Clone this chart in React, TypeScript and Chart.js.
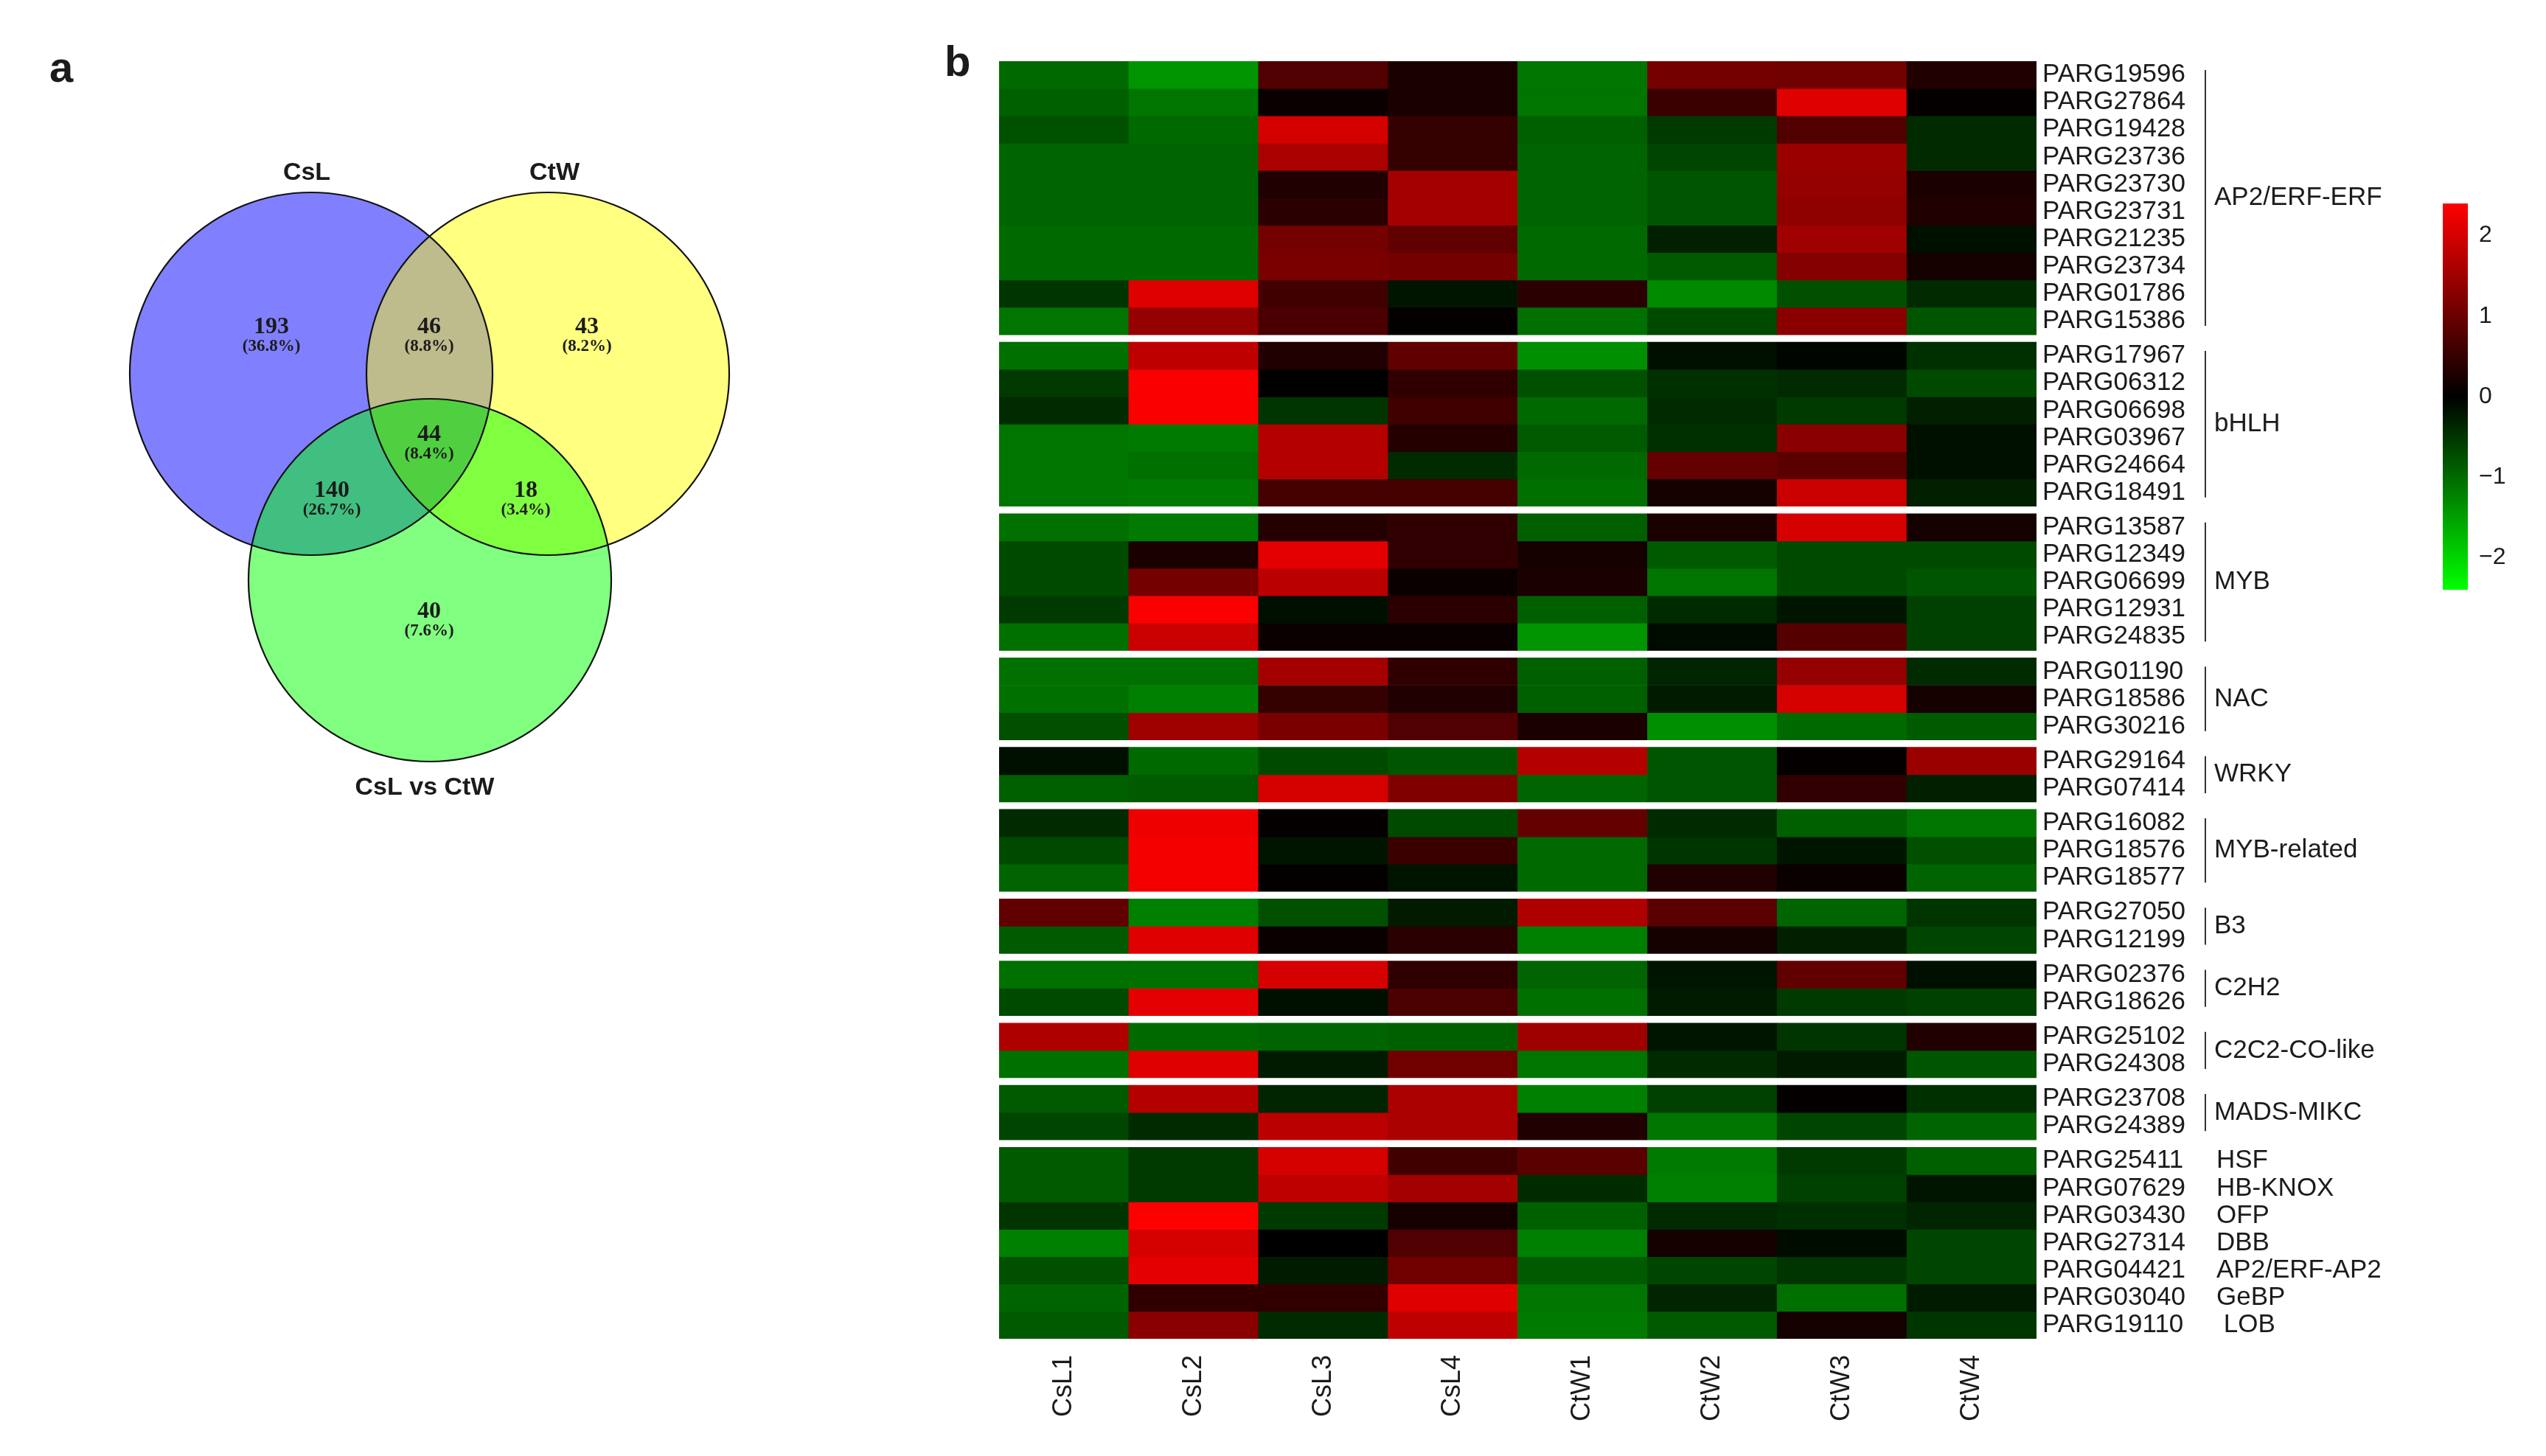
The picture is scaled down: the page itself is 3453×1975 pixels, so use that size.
import React, { useEffect, useRef } from 'react';
import { Chart, registerables } from 'chart.js';

Chart.register(...registerables);

// ---------------- Heatmap data ----------------
const samples = ['CsL1', 'CsL2', 'CsL3', 'CsL4', 'CtW1', 'CtW2', 'CtW3', 'CtW4'];

const genes = [
  'PARG19596', 'PARG27864', 'PARG19428', 'PARG23736', 'PARG23730', 'PARG23731', 'PARG21235', 'PARG23734', 'PARG01786', 'PARG15386',
  'PARG17967', 'PARG06312', 'PARG06698', 'PARG03967', 'PARG24664', 'PARG18491',
  'PARG13587', 'PARG12349', 'PARG06699', 'PARG12931', 'PARG24835',
  'PARG01190', 'PARG18586', 'PARG30216',
  'PARG29164', 'PARG07414',
  'PARG16082', 'PARG18576', 'PARG18577',
  'PARG27050', 'PARG12199',
  'PARG02376', 'PARG18626',
  'PARG25102', 'PARG24308',
  'PARG23708', 'PARG24389',
  'PARG25411', 'PARG07629', 'PARG03430', 'PARG27314', 'PARG04421', 'PARG03040', 'PARG19110',
];

const groupNames = ['AP2/ERF-ERF', 'bHLH', 'MYB', 'NAC', 'WRKY', 'MYB-related', 'B3', 'C2H2', 'C2C2-CO-like', 'MADS-MIKC', ''];
const groupSizes = [10, 6, 5, 3, 2, 3, 2, 2, 2, 2, 7];
const singleFamilies = ['HSF', 'HB-KNOX', 'OFP', 'DBB', 'AP2/ERF-AP2', 'GeBP', ' LOB'];

// z-scores per gene, columns follow `samples`
const expression: number[][] = [
  [-1.0, -1.4, 0.75, 0.25, -1.1, 1.1, 1.05, 0.3],
  [-0.9, -1.1, 0.1, 0.25, -1.1, 0.55, 2.1, 0.05],
  [-0.75, -1.0, 2.0, 0.5, -0.9, -0.55, 0.75, -0.4],
  [-0.95, -0.95, 1.6, 0.5, -0.95, -0.65, 1.45, -0.4],
  [-0.95, -0.95, 0.3, 1.55, -0.95, -0.8, 1.4, 0.25],
  [-0.95, -0.95, 0.4, 1.55, -0.95, -0.8, 1.35, 0.3],
  [-1.0, -1.0, 1.1, 0.9, -1.0, -0.3, 1.5, -0.15],
  [-1.0, -1.0, 1.15, 1.1, -1.0, -0.85, 1.25, 0.2],
  [-0.5, 2.1, 0.6, -0.2, 0.4, -1.3, -0.75, -0.4],
  [-1.1, 1.4, 0.7, 0.05, -1.05, -0.7, 1.3, -0.8],

  [-1.05, 1.8, 0.3, 0.9, -1.35, -0.15, -0.05, -0.45],
  [-0.55, 2.35, 0.0, 0.45, -0.75, -0.45, -0.4, -0.7],
  [-0.4, 2.35, -0.5, 0.6, -1.0, -0.4, -0.55, -0.3],
  [-1.1, -1.15, 1.7, 0.35, -0.85, -0.45, 1.3, -0.15],
  [-1.1, -1.05, 1.7, -0.4, -1.0, 0.95, 0.85, -0.15],
  [-1.1, -1.15, 0.65, 0.65, -1.05, 0.2, 1.9, -0.3],

  [-1.05, -1.15, 0.35, 0.45, -0.9, 0.25, 2.0, 0.2],
  [-0.7, 0.25, 2.15, 0.45, 0.2, -0.85, -0.7, -0.7],
  [-0.7, 1.1, 1.75, 0.1, 0.25, -1.1, -0.7, -0.8],
  [-0.55, 2.35, -0.15, 0.4, -0.9, -0.4, -0.2, -0.6],
  [-1.05, 1.9, 0.1, 0.1, -1.4, -0.1, 0.8, -0.6],

  [-1.05, -1.05, 1.55, 0.45, -0.9, -0.35, 1.4, -0.4],
  [-1.05, -1.2, 0.5, 0.3, -0.9, -0.25, 2.0, 0.2],
  [-0.75, 1.5, 1.15, 0.75, 0.25, -1.35, -1.0, -0.85],

  [-0.15, -1.0, -0.7, -0.8, 1.7, -0.8, 0.05, 1.45],
  [-0.9, -0.85, 2.0, 1.2, -0.95, -0.8, 0.45, -0.3],

  [-0.4, 2.25, 0.05, -0.7, 0.95, -0.4, -0.9, -1.1],
  [-0.7, 2.3, -0.2, 0.55, -1.0, -0.5, -0.2, -0.75],
  [-0.95, 2.3, 0.05, -0.2, -1.0, 0.3, 0.1, -0.95],

  [0.9, -1.2, -0.75, -0.25, 1.65, 0.85, -0.95, -0.5],
  [-0.85, 2.1, 0.1, 0.4, -1.2, 0.2, -0.3, -0.65],

  [-1.05, -1.05, 2.0, 0.45, -0.95, -0.2, 0.9, -0.15],
  [-0.7, 2.15, -0.15, 0.7, -1.05, -0.25, -0.55, -0.6],

  [1.65, -1.0, -0.95, -0.9, 1.5, -0.2, -0.5, 0.3],
  [-1.05, 2.1, -0.25, 1.05, -1.1, -0.4, -0.25, -0.8],

  [-0.85, 1.7, -0.35, 1.6, -1.2, -0.6, 0.05, -0.45],
  [-0.65, -0.4, 1.75, 1.6, 0.3, -1.1, -0.65, -0.95],

  [-0.85, -0.55, 2.0, 0.6, 0.85, -1.15, -0.55, -0.9],
  [-0.85, -0.55, 1.8, 1.55, -0.4, -1.2, -0.6, -0.2],
  [-0.5, 2.4, -0.55, 0.2, -0.9, -0.4, -0.45, -0.35],
  [-1.2, 2.0, 0.0, 0.75, -1.2, 0.2, -0.1, -0.65],
  [-0.75, 2.15, -0.25, 1.05, -0.85, -0.65, -0.5, -0.65],
  [-0.95, 0.45, 0.45, 2.1, -1.1, -0.35, -1.05, -0.25],
  [-0.85, 1.3, -0.4, 1.8, -1.15, -0.85, 0.2, -0.5],
];

const colorTicks = [-2, -1, 0, 1, 2];
const colorMin = -2.4;
const colorMax = 2.4;

// ---------------- Venn data ----------------
const vennSetNames = ['CsL', 'CtW', 'CsL vs CtW'];
const vennCounts = ['193', '46', '43', '140', '44', '18', '40'];
const vennPercents = ['(36.8%)', '(8.8%)', '(8.2%)', '(26.7%)', '(8.4%)', '(3.4%)', '(7.6%)'];

// ---------------- layout (not data) ----------------
const PAGE_W = 3453;
const PAGE_H = 1975;
const GAP = 0.27;

const rowTops: number[] = [];
const groupStarts: number[] = [];
let cursor = 0;
groupSizes.forEach((n, gi) => {
  if (gi > 0) cursor += GAP;
  groupStarts.push(rowTops.length);
  for (let i = 0; i < n; i++) {
    rowTops.push(cursor);
    cursor += 1;
  }
});
const totalUnits = cursor;
const rowCenters = rowTops.map((t) => t + 0.5);

function heatColor(v: number): string {
  const t = Math.max(-1, Math.min(1, v / colorMax));
  const c = Math.round(255 * Math.abs(t));
  return t >= 0 ? `rgb(${c},0,0)` : `rgb(0,${c},0)`;
}

const SANS = '"Liberation Sans", Arial, sans-serif';
const SERIF = '"Liberation Serif", "Times New Roman", serif';
const TEXT = '#1b1b1b';

// Venn geometry (canvas px)
const VENN_W = 1150;
const VENN_H = 1150;
const vennCircles = [
  { x: 422, y: 507 },
  { x: 743, y: 507 },
  { x: 583, y: 787 },
];
const VENN_R = 246;
const vennFills = ['#8080FF', '#FFFF80', '#80FF80'];
const vennPairFills = { ab: '#BEBB8C', ac: '#40BF80', bc: '#80FF40', abc: '#50D040' };
const vennSetLabelPos = [
  { x: 416, y: 235 },
  { x: 752, y: 235 },
  { x: 576, y: 1069 },
];
const vennCountPos = [
  { x: 368, y: 444 },
  { x: 582, y: 444 },
  { x: 796, y: 444 },
  { x: 450, y: 666 },
  { x: 582, y: 590 },
  { x: 713, y: 666 },
  { x: 582, y: 830 },
];

// Heatmap canvas placement
const HEAT_LEFT = 1250;
const HEAT_W = 2050;
const AREA_LEFT = 1355;
const AREA_RIGHT = 2762;
const AREA_TOP = 83;
const AREA_BOTTOM = 1816;

// Colour bar placement
const BAR_LEFT = 3270;
const BAR_TOP = 230;
const BAR_W = 180;
const BAR_H = 620;
const BAR_AREA_LEFT = 3313;
const BAR_AREA_RIGHT = 3347;

const vennPlugin = {
  id: 'vennPlugin',
  beforeDatasetsDraw(chart: any) {
    const { ctx, scales } = chart;
    const xs = scales.x;
    const ys = scales.y;
    const pts = vennCircles.map((c) => ({ x: xs.getPixelForValue(c.x), y: ys.getPixelForValue(c.y) }));
    const r = xs.getPixelForValue(vennCircles[0].x + VENN_R) - xs.getPixelForValue(vennCircles[0].x);
    const circ = (i: number) => {
      ctx.beginPath();
      ctx.arc(pts[i].x, pts[i].y, r, 0, Math.PI * 2);
    };
    ctx.save();
    for (let i = 0; i < 3; i++) {
      circ(i);
      ctx.fillStyle = vennFills[i];
      ctx.fill();
    }
    const pair = (a: number, b: number, col: string) => {
      ctx.save();
      circ(a);
      ctx.clip();
      circ(b);
      ctx.fillStyle = col;
      ctx.fill();
      ctx.restore();
    };
    pair(0, 1, vennPairFills.ab);
    pair(0, 2, vennPairFills.ac);
    pair(1, 2, vennPairFills.bc);
    ctx.save();
    circ(0);
    ctx.clip();
    circ(1);
    ctx.clip();
    circ(2);
    ctx.fillStyle = vennPairFills.abc;
    ctx.fill();
    ctx.restore();
    ctx.lineWidth = 2.2;
    ctx.strokeStyle = '#111';
    for (let i = 0; i < 3; i++) {
      circ(i);
      ctx.stroke();
    }
    ctx.restore();
  },
  afterDatasetsDraw(chart: any) {
    const { ctx, scales } = chart;
    const xs = scales.x;
    const ys = scales.y;
    ctx.save();
    ctx.fillStyle = TEXT;
    ctx.textAlign = 'left';
    ctx.textBaseline = 'alphabetic';
    ctx.font = `bold 58px ${SANS}`;
    ctx.fillText('a', xs.getPixelForValue(67), ys.getPixelForValue(111));

    ctx.textAlign = 'center';
    ctx.textBaseline = 'middle';
    ctx.font = `bold 34px ${SANS}`;
    vennSetNames.forEach((n, i) => {
      ctx.fillText(n, xs.getPixelForValue(vennSetLabelPos[i].x), ys.getPixelForValue(vennSetLabelPos[i].y));
    });
    vennCounts.forEach((c, i) => {
      const px = xs.getPixelForValue(vennCountPos[i].x);
      const py = ys.getPixelForValue(vennCountPos[i].y);
      ctx.font = `bold 32px ${SERIF}`;
      ctx.fillText(c, px, py);
      ctx.font = `bold 23px ${SERIF}`;
      ctx.fillText(vennPercents[i], px, py + 26);
    });
    ctx.restore();
  },
};

const groupPlugin = {
  id: 'groupPlugin',
  afterDraw(chart: any) {
    const { ctx, chartArea } = chart;
    const ys = chart.scales.y;
    const bracketX = chartArea.right + 229;
    ctx.save();
    ctx.fillStyle = TEXT;
    ctx.strokeStyle = '#333';
    ctx.lineWidth = 2;
    ctx.textBaseline = 'middle';
    ctx.textAlign = 'left';
    ctx.font = `35px ${SANS}`;
    groupSizes.forEach((n, gi) => {
      const s = groupStarts[gi];
      const top = ys.getPixelForValue(rowTops[s]);
      const bottom = ys.getPixelForValue(rowTops[s + n - 1] + 1);
      if (groupNames[gi]) {
        ctx.beginPath();
        ctx.moveTo(bracketX, top + 12);
        ctx.lineTo(bracketX, bottom - 12);
        ctx.stroke();
        ctx.fillText(groupNames[gi], bracketX + 12, (top + bottom) / 2);
      } else {
        for (let i = 0; i < n; i++) {
          ctx.fillText(singleFamilies[i], bracketX + 15, ys.getPixelForValue(rowCenters[s + i]));
        }
      }
    });
    ctx.font = `bold 58px ${SANS}`;
    ctx.textBaseline = 'alphabetic';
    ctx.fillText('b', chartArea.left - 74, chartArea.top + 20);
    ctx.restore();
  },
};

export default function App() {
  const vennRef = useRef<HTMLCanvasElement>(null);
  const heatRef = useRef<HTMLCanvasElement>(null);
  const barRef = useRef<HTMLCanvasElement>(null);

  useEffect(() => {
    const charts: Chart[] = [];

    charts.push(
      new Chart(vennRef.current as HTMLCanvasElement, {
        type: 'scatter',
        data: {
          datasets: [
            {
              data: vennCountPos.map((p) => ({ x: p.x, y: p.y })),
              pointRadius: 0,
              showLine: false,
            },
          ],
        },
        options: {
          animation: false,
          responsive: false,
          events: [],
          layout: { padding: 0 },
          plugins: { legend: { display: false }, tooltip: { enabled: false } },
          scales: {
            x: { type: 'linear', min: 0, max: VENN_W, display: false },
            y: { type: 'linear', min: 0, max: VENN_H, reverse: true, display: false },
          },
        },
        plugins: [vennPlugin],
      } as any)
    );

    charts.push(
      new Chart(heatRef.current as HTMLCanvasElement, {
        type: 'bar',
        data: {
          labels: samples,
          datasets: genes.map((g, r) => ({
            label: g,
            data: samples.map(() => [rowTops[r], rowTops[r] + 1]),
            backgroundColor: expression[r].map(heatColor),
            borderWidth: 0,
          })),
        },
        options: {
          animation: false,
          responsive: false,
          events: [],
          datasets: { bar: { grouped: false, barPercentage: 1, categoryPercentage: 1 } },
          layout: { padding: { left: AREA_LEFT - HEAT_LEFT, top: AREA_TOP, right: 0, bottom: 0 } },
          plugins: { legend: { display: false }, tooltip: { enabled: false } },
          scales: {
            x: {
              type: 'category',
              position: 'bottom',
              grid: { display: false, drawTicks: false },
              border: { display: false },
              ticks: {
                autoSkip: false,
                minRotation: 90,
                maxRotation: 90,
                padding: 22,
                color: TEXT,
                font: { family: SANS, size: 36 },
              },
              afterFit: (s: any) => {
                s.height = PAGE_H - AREA_BOTTOM;
              },
            },
            y: {
              type: 'linear',
              position: 'right',
              reverse: true,
              min: 0,
              max: totalUnits,
              grid: { display: false, drawTicks: false },
              border: { display: false },
              afterBuildTicks: (s: any) => {
                s.ticks = rowCenters.map((v) => ({ value: v }));
              },
              ticks: {
                autoSkip: false,
                padding: 8,
                color: TEXT,
                font: { family: SANS, size: 35 },
                callback: (_v: any, i: number) => genes[i],
              },
              afterFit: (s: any) => {
                s.width = HEAT_W - (AREA_RIGHT - HEAT_LEFT);
              },
            },
          },
        },
        plugins: [groupPlugin],
      } as any)
    );

    charts.push(
      new Chart(barRef.current as HTMLCanvasElement, {
        type: 'bar',
        data: {
          labels: ['z'],
          datasets: [
            {
              data: [[colorMin, colorMax]],
              borderWidth: 0,
              barPercentage: 1,
              categoryPercentage: 1,
              backgroundColor: (c: any) => {
                const ca = c.chart.chartArea;
                if (!ca) return '#000';
                const g = c.chart.ctx.createLinearGradient(0, ca.bottom, 0, ca.top);
                g.addColorStop(0, heatColor(colorMin));
                g.addColorStop(0.5, heatColor(0));
                g.addColorStop(1, heatColor(colorMax));
                return g;
              },
            },
          ],
        },
        options: {
          animation: false,
          responsive: false,
          events: [],
          layout: {
            padding: { left: BAR_AREA_LEFT - BAR_LEFT, top: 276 - BAR_TOP, right: 0, bottom: BAR_TOP + BAR_H - 800 },
          },
          plugins: { legend: { display: false }, tooltip: { enabled: false } },
          scales: {
            x: { type: 'category', display: false },
            y: {
              type: 'linear',
              position: 'right',
              min: colorMin,
              max: colorMax,
              grid: { display: false, drawTicks: false },
              border: { display: false },
              afterBuildTicks: (s: any) => {
                s.ticks = colorTicks.map((v) => ({ value: v }));
              },
              ticks: {
                padding: 15,
                color: TEXT,
                font: { family: SANS, size: 32 },
                callback: (v: any) => (Number(v) < 0 ? '\u2212' + Math.abs(Number(v)) : String(v)),
              },
              afterFit: (s: any) => {
                s.width = BAR_W - (BAR_AREA_RIGHT - BAR_LEFT);
              },
            },
          },
        },
      } as any)
    );

    return () => charts.forEach((c) => c.destroy());
  }, []);

  return (
    <div
      style={{
        position: 'absolute',
        left: 0,
        top: 0,
        width: PAGE_W,
        height: PAGE_H,
        background: '#ffffff',
        overflow: 'hidden',
      }}
    >
      <canvas
        ref={vennRef}
        width={VENN_W}
        height={VENN_H}
        style={{ position: 'absolute', left: 0, top: 0, width: VENN_W, height: VENN_H }}
      />
      <canvas
        ref={heatRef}
        width={HEAT_W}
        height={PAGE_H}
        style={{ position: 'absolute', left: HEAT_LEFT, top: 0, width: HEAT_W, height: PAGE_H }}
      />
      <canvas
        ref={barRef}
        width={BAR_W}
        height={BAR_H}
        style={{ position: 'absolute', left: BAR_LEFT, top: BAR_TOP, width: BAR_W, height: BAR_H }}
      />
    </div>
  );
}
